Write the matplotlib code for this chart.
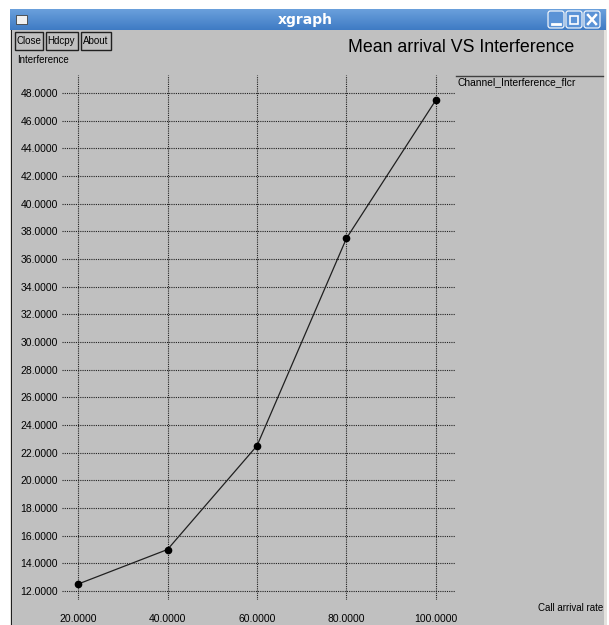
import numpy as np
import matplotlib.pyplot as plt
from matplotlib.patches import Rectangle, FancyBboxPatch

# data
call_rate = [20, 40, 60, 80, 100]
interference = [12.5, 15.0, 22.5, 37.5, 47.5]
x_ticks = [20, 40, 60, 80, 100]
y_ticks = list(range(12, 49, 2))

W, H = 609, 625
BG = '#c0c0c0'
FONT = ['Liberation Sans Narrow', 'Liberation Sans', 'DejaVu Sans']
plt.rcParams['font.family'] = FONT

fig = plt.figure(figsize=(W / 100, H / 100), dpi=100)
fig.patch.set_facecolor('white')


def box(x0, y0, x1, y1):
  """pixel box (top-left origin) -> figure fraction rect"""
  return [x0 / W, 1 - y1 / H, (x1 - x0) / W, (y1 - y0) / H]


def ftext(x, y, s, **kw):
  fig.text(x / W, 1 - y / H, s, **kw)


def fline(xs, ys, **kw):
  fig.lines.append(plt.Line2D([v / W for v in xs], [1 - v / H for v in ys],
                              transform=fig.transFigure, **kw))


# window frame and client area (kept below the axes)
fig.patches.append(Rectangle((10 / W, 0), 597 / W, 1 - 9 / H, transform=fig.transFigure,
                             facecolor='#e4e2de', edgecolor='none', zorder=-3))
fig.patches.append(Rectangle((12 / W, 0), 592 / W, 1 - 30 / H, transform=fig.transFigure,
                             facecolor=BG, edgecolor='none', zorder=-2))
fig.patches.append(Rectangle((10.5 / W, 0), 1.5 / W, 1 - 30 / H, transform=fig.transFigure,
                             facecolor='#202020', edgecolor='none', zorder=-1))

# title bar with a vertical blue gradient
tb = fig.add_axes(box(10, 9, 606, 30))
grad = np.linspace(0, 1, 50).reshape(-1, 1)
tb.imshow(grad, aspect='auto', cmap=plt.matplotlib.colors.LinearSegmentedColormap.from_list(
  'tb', ['#6aa0dc', '#3f7bc4']), extent=[0, 1, 0, 1], origin='upper')
tb.set_xlim(0, 1)
tb.set_ylim(0, 1)
tb.axis('off')
ftext(305, 20, 'xgraph', ha='center', va='center', color='white', fontsize=10,
      fontweight='bold', family=['DejaVu Sans'], zorder=6)
fig.patches.append(Rectangle((16 / W, 1 - 24 / H), 11 / W, 9 / H, transform=fig.transFigure,
                             facecolor='#f0f0f0', edgecolor='#404040', lw=0.6, zorder=5))
for bx in [548, 566, 584]:
  fig.patches.append(FancyBboxPatch((bx / W, 1 - 28 / H), 16 / W, 17 / H,
                                    boxstyle='round,pad=0,rounding_size=0.004',
                                    transform=fig.transFigure, facecolor='#5b93d6',
                                    edgecolor='white', lw=0.8, zorder=5))
fline([552, 560], [24, 24], color='white', lw=2, zorder=6)
fig.patches.append(Rectangle((570 / W, 1 - 24 / H), 8 / W, 8 / H, transform=fig.transFigure,
                             facecolor='none', edgecolor='white', lw=1.2, zorder=6))
fline([588, 596], [15, 24], color='white', lw=1.8, zorder=6)
fline([588, 596], [24, 15], color='white', lw=1.8, zorder=6)

# xgraph buttons
for x0, x1, label in [(14.5, 42.5, 'Close'), (45.5, 77.5, 'Hdcpy'), (80.5, 110.5, 'About')]:
  fig.patches.append(Rectangle((x0 / W, 1 - 49.5 / H), (x1 - x0) / W, 17.5 / H,
                               transform=fig.transFigure, facecolor=BG,
                               edgecolor='#202020', lw=1.0, zorder=5))
  ftext((x0 + x1) / 2, 41, label, ha='center', va='center', fontsize=7, zorder=6)

ftext(461, 48, 'Mean arrival VS Interference', ha='center', va='center', fontsize=12.8,
      family=['Liberation Sans', 'DejaVu Sans'])
ftext(17, 60, 'Interference', ha='left', va='center', fontsize=7)

# plot area
ax = fig.add_axes(box(62, 75, 455, 600))
ax.set_facecolor('none')
ax.plot(call_rate, interference, '-', color='#202020', lw=0.9, zorder=3)
ax.plot(call_rate, interference, 'o', color='black', ms=4.5, zorder=4)
ax.set_xlim(16.42, 104.25)
ax.set_ylim(11.35, 49.30)
ax.set_xticks(x_ticks)
ax.set_yticks(y_ticks)
ax.set_xticklabels(['%.4f' % v for v in x_ticks], fontsize=7.5, family=['Liberation Sans'])
ax.set_yticklabels(['%.4f' % v for v in y_ticks], fontsize=7.5, family=['Liberation Sans'])
ax.tick_params(length=0, pad=3)
ax.tick_params(axis='x', pad=10)
for s in ax.spines.values():
  s.set_visible(False)
ax.grid(True, color='#202020', linestyle=(0, (1, 1)), lw=0.8)
ax.set_axisbelow(True)

# legend (xgraph style: line with name under it)
fline([456, 603], [76, 76], color='#404040', lw=1.0)
ftext(457, 82, 'Channel_Interference_flcr', ha='left', va='center', fontsize=7.4)
ftext(603, 608, 'Call arrival rate', ha='right', va='center', fontsize=7)

fig.savefig('out.png', dpi=100, facecolor=fig.get_facecolor())
